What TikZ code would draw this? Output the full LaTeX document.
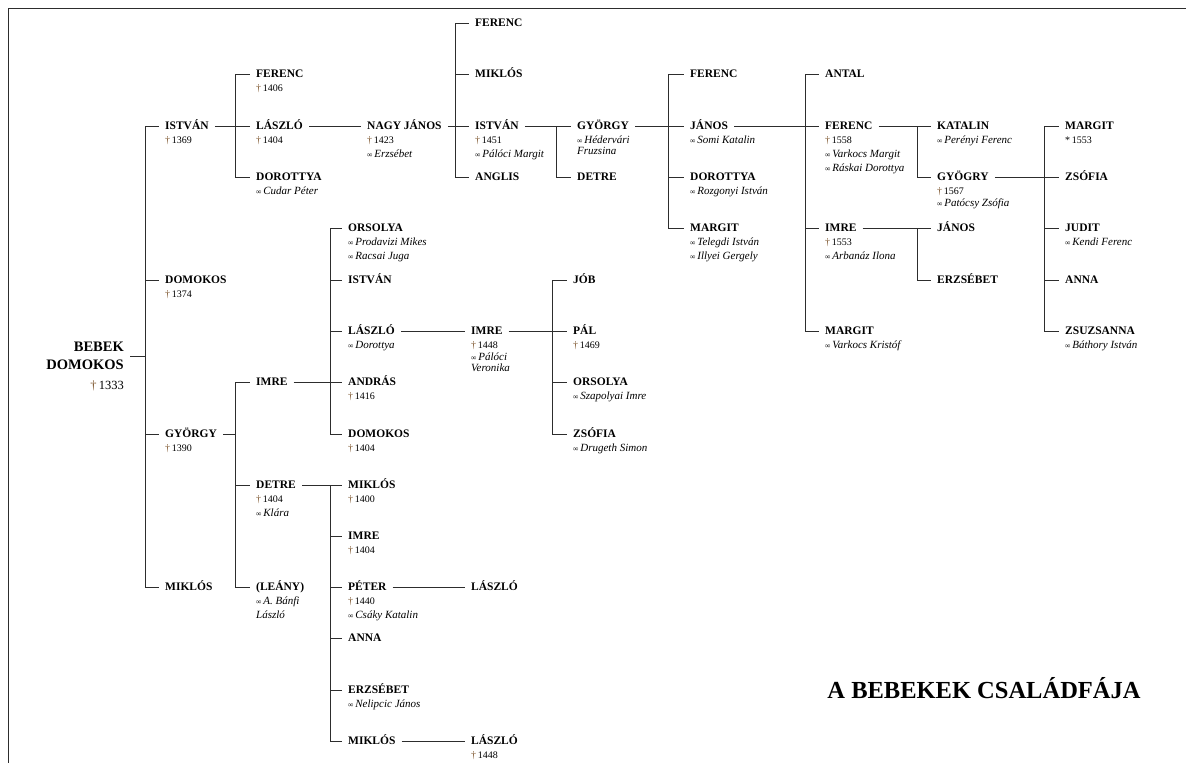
\documentclass[tikz,border=0pt]{standalone}
\usepackage{fontspec}
\setmainfont{Liberation Serif}
\usepackage{tikz}
\usetikzlibrary{positioning}

\definecolor{crosscol}{RGB}{125,85,45}
\definecolor{linecol}{RGB}{45,45,45}

\newcommand{\dets}[1]{\begin{tabular}[t]{@{}l@{}}#1\end{tabular}}
\newcommand{\died}[1]{{\upshape\fontsize{10}{14}\selectfont\textcolor{crosscol}{†}\,#1}}
\newcommand{\born}[1]{{\upshape\fontsize{10}{14}\selectfont *\,#1}}
\newcommand{\wed}{{\upshape\fontsize{7.5}{14}\selectfont ∞}\,}

\begin{document}
\begin{tikzpicture}[x=1pt,y=-1pt,
    person/.style={anchor=west,inner xsep=6pt,inner ysep=0pt,text height=7.6pt,text depth=0pt,
                   font=\fontsize{11.5}{12}\selectfont\bfseries},
    info/.style={anchor=base west,inner xsep=6pt,inner ysep=0pt,
                 font=\fontsize{11}{14}\selectfont\itshape},
    root/.style={anchor=east,align=right,inner xsep=6pt,inner ysep=0pt,
                 font=\fontsize{14.5}{18}\selectfont\bfseries},
    link/.style={draw=linecol,line width=0.95pt},
    fork/.style={link,to path={|- (\tikztotarget.west)}}]

  \useasboundingbox (0,0) rectangle (1186,763);
  \draw[linecol,line width=0.8pt] (8,763) -- (8,8) -- (1186,8);

  % the first Bebek
  \node[root] (bebek) at (130,356) {BEBEK\\DOMOKOS};
  \node[anchor=base east,inner xsep=6pt,font=\fontsize{12.5}{14}\selectfont] (bebek-d)
    at ([yshift=-19pt]bebek.south east) {\textcolor{crosscol}{†}\,1333};

  % sons
  \node[person] (istvan)  at (159,126) {ISTVÁN};
  \node[person] (domokos) at (159,280) {DOMOKOS};
  \node[person] (gyorgy)  at (159,434) {GYÖRGY};
  \node[person] (miklos)  at (159,587) {MIKLÓS};
  \node[info] (istvan-d)  at ([yshift=-14pt]istvan.base west)  {\dets{\died{1369}}};
  \node[info] (domokos-d) at ([yshift=-14pt]domokos.base west) {\dets{\died{1374}}};
  \node[info] (gyorgy-d)  at ([yshift=-14pt]gyorgy.base west)  {\dets{\died{1390}}};

  % István's line
  \node[person] (ferenc2)   at (250,74)  {FERENC};
  \node[person] (laszlo2)   at (250,126) {LÁSZLÓ};
  \node[person] (dorottya2) at (250,177) {DOROTTYA};
  \node[info] (ferenc2-d)   at ([yshift=-14pt]ferenc2.base west)   {\dets{\died{1406}}};
  \node[info] (laszlo2-d)   at ([yshift=-14pt]laszlo2.base west)   {\dets{\died{1404}}};
  \node[info] (dorottya2-d) at ([yshift=-14pt]dorottya2.base west) {\dets{\wed Cudar Péter}};

  \node[person] (nagyjanos) at (361,126) {NAGY JÁNOS};
  \node[info] (nagyjanos-d) at ([yshift=-14pt]nagyjanos.base west) {\dets{\died{1423}\\\wed Erzsébet}};

  \node[person] (ferenc4)  at (469,23)  {FERENC};
  \node[person] (miklos4)  at (469,74)  {MIKLÓS};
  \node[person] (istvan4)  at (469,126) {ISTVÁN};
  \node[person] (anglis4)  at (469,177) {ANGLIS};
  \node[info] (istvan4-d)  at ([yshift=-14pt]istvan4.base west) {\dets{\died{1451}\\\wed Pálóci Margit}};

  \node[person] (gyorgy5) at (571,126) {GYÖRGY};
  \node[person] (detre5)  at (571,177) {DETRE};
  \node[info] (gyorgy5-d) at ([yshift=-14pt]gyorgy5.base west) {\dets{\wed Hédervári\\[-3pt]Fruzsina}};

  \node[person] (ferenc6)   at (684,74)  {FERENC};
  \node[person] (janos6)    at (684,126) {JÁNOS};
  \node[person] (dorottya6) at (684,177) {DOROTTYA};
  \node[person] (margit6)   at (684,228) {MARGIT};
  \node[info] (janos6-d)    at ([yshift=-14pt]janos6.base west)    {\dets{\wed Somi Katalin}};
  \node[info] (dorottya6-d) at ([yshift=-14pt]dorottya6.base west) {\dets{\wed Rozgonyi István}};
  \node[info] (margit6-d)   at ([yshift=-14pt]margit6.base west)   {\dets{\wed Telegdi István\\\wed Illyei Gergely}};

  \node[person] (antal7)  at (819,74)  {ANTAL};
  \node[person] (ferenc7) at (819,126) {FERENC};
  \node[person] (imre7)   at (819,228) {IMRE};
  \node[person] (margit7) at (819,331) {MARGIT};
  \node[info] (ferenc7-d) at ([yshift=-14pt]ferenc7.base west)
    {\dets{\died{1558}\\\wed Varkocs Margit\\\wed Ráskai Dorottya}};
  \node[info] (imre7-d)   at ([yshift=-14pt]imre7.base west)   {\dets{\died{1553}\\\wed Arbanáz Ilona}};
  \node[info] (margit7-d) at ([yshift=-14pt]margit7.base west) {\dets{\wed Varkocs Kristóf}};

  \node[person] (katalin8)  at (931,126) {KATALIN};
  \node[person] (gyogry8)   at (931,177) {GYÖGRY};
  \node[person] (janos8)    at (931,228) {JÁNOS};
  \node[person] (erzsebet8) at (931,280) {ERZSÉBET};
  \node[info] (katalin8-d)  at ([yshift=-14pt]katalin8.base west) {\dets{\wed Perényi Ferenc}};
  \node[info] (gyogry8-d)   at ([yshift=-14pt]gyogry8.base west)  {\dets{\died{1567}\\[-2pt]\wed Patócsy Zsófia}};

  \node[person] (margit9)    at (1059,126) {MARGIT};
  \node[person] (zsofia9)    at (1059,177) {ZSÓFIA};
  \node[person] (judit9)     at (1059,228) {JUDIT};
  \node[person] (anna9)      at (1059,280) {ANNA};
  \node[person] (zsuzsanna9) at (1059,331) {ZSUZSANNA};
  \node[info] (margit9-d)    at ([yshift=-14pt]margit9.base west)    {\dets{\born{1553}}};
  \node[info] (judit9-d)     at ([yshift=-14pt]judit9.base west)     {\dets{\wed Kendi Ferenc}};
  \node[info] (zsuzsanna9-d) at ([yshift=-14pt]zsuzsanna9.base west) {\dets{\wed Báthory István}};

  % György's line
  \node[person] (imre2)  at (250,382) {IMRE};
  \node[person] (detre2) at (250,485) {DETRE};
  \node[person] (leany2) at (250,587) {(LEÁNY)};
  \node[info] (detre2-d) at ([yshift=-14pt]detre2.base west) {\dets{\died{1404}\\\wed Klára}};
  \node[info] (leany2-d) at ([yshift=-14pt]leany2.base west) {\dets{\wed A. Bánfi\\László}};

  \node[person] (orsolya3) at (342,228) {ORSOLYA};
  \node[person] (istvan3)  at (342,280) {ISTVÁN};
  \node[person] (laszlo3)  at (342,331) {LÁSZLÓ};
  \node[person] (andras3)  at (342,382) {ANDRÁS};
  \node[person] (domokos3) at (342,434) {DOMOKOS};
  \node[info] (orsolya3-d) at ([yshift=-14pt]orsolya3.base west) {\dets{\wed Prodavizi Mikes\\\wed Racsai Juga}};
  \node[info] (laszlo3-d)  at ([yshift=-14pt]laszlo3.base west)  {\dets{\wed Dorottya}};
  \node[info] (andras3-d)  at ([yshift=-14pt]andras3.base west)  {\dets{\died{1416}}};
  \node[info] (domokos3-d) at ([yshift=-14pt]domokos3.base west) {\dets{\died{1404}}};

  \node[person] (imre4) at (465,331) {IMRE};
  \node[info] (imre4-d) at ([yshift=-14pt]imre4.base west) {\dets{\died{1448}\\[-2pt]\wed Pálóci\\[-3pt]Veronika}};

  \node[person] (job5)     at (567,280) {JÓB};
  \node[person] (pal5)     at (567,331) {PÁL};
  \node[person] (orsolya5) at (567,382) {ORSOLYA};
  \node[person] (zsofia5)  at (567,434) {ZSÓFIA};
  \node[info] (pal5-d)     at ([yshift=-14pt]pal5.base west)     {\dets{\died{1469}}};
  \node[info] (orsolya5-d) at ([yshift=-14pt]orsolya5.base west) {\dets{\wed Szapolyai Imre}};
  \node[info] (zsofia5-d)  at ([yshift=-14pt]zsofia5.base west)  {\dets{\wed Drugeth Simon}};

  \node[person] (miklos3)   at (342,485) {MIKLÓS};
  \node[person] (imre3)     at (342,536) {IMRE};
  \node[person] (peter3)    at (342,587) {PÉTER};
  \node[person] (anna3)     at (342,638) {ANNA};
  \node[person] (erzsebet3) at (342,690) {ERZSÉBET};
  \node[person] (miklos3b)  at (342,741) {MIKLÓS};
  \node[info] (miklos3-d)   at ([yshift=-14pt]miklos3.base west)   {\dets{\died{1400}}};
  \node[info] (imre3-d)     at ([yshift=-14pt]imre3.base west)     {\dets{\died{1404}}};
  \node[info] (peter3-d)    at ([yshift=-14pt]peter3.base west)    {\dets{\died{1440}\\\wed Csáky Katalin}};
  \node[info] (erzsebet3-d) at ([yshift=-14pt]erzsebet3.base west) {\dets{\wed Nelipcic János}};

  \node[person] (laszlo4a) at (465,587) {LÁSZLÓ};
  \node[person] (laszlo4b) at (465,741) {LÁSZLÓ};
  \node[info] (laszlo4b-d) at ([yshift=-14pt]laszlo4b.base west) {\dets{\died{1448}}};

  % title
  \node[font=\fontsize{24.5}{25}\selectfont\bfseries] (title) at (984,688) {A BEBEKEK CSALÁDFÁJA};

  % branching points
  \coordinate (b-root)      at (145,356);
  \coordinate (b-istvan)    at (235,126);
  \coordinate (b-gyorgy)    at (235,434);
  \coordinate (b-nagyjanos) at (455,126);
  \coordinate (b-istvan4)   at (556,126);
  \coordinate (b-gyorgy5)   at (668,126);
  \coordinate (b-janos6)    at (805,126);
  \coordinate (b-ferenc7)   at (917,126);
  \coordinate (b-imre7)     at (917,228);
  \coordinate (b-gyogry8)   at (1044,177);
  \coordinate (b-imre2)     at (330,382);
  \coordinate (b-imre4)     at (552,331);
  \coordinate (b-detre2)    at (330,485);

  % connectors
  \draw[link] (bebek) -- (b-root);
  \draw[link] (b-root) edge[fork] (istvan) edge[fork] (domokos) edge[fork] (gyorgy) edge[fork] (miklos);

  \draw[link] (istvan) -- (b-istvan);
  \draw[link] (b-istvan) edge[fork] (ferenc2) edge[fork] (laszlo2) edge[fork] (dorottya2);
  \draw[link] (laszlo2) -- (nagyjanos);
  \draw[link] (nagyjanos) -- (b-nagyjanos);
  \draw[link] (b-nagyjanos) edge[fork] (ferenc4) edge[fork] (miklos4) edge[fork] (istvan4) edge[fork] (anglis4);
  \draw[link] (istvan4) -- (b-istvan4);
  \draw[link] (b-istvan4) edge[fork] (gyorgy5) edge[fork] (detre5);
  \draw[link] (gyorgy5) -- (b-gyorgy5);
  \draw[link] (b-gyorgy5) edge[fork] (ferenc6) edge[fork] (janos6) edge[fork] (dorottya6) edge[fork] (margit6);
  \draw[link] (janos6) -- (b-janos6);
  \draw[link] (b-janos6) edge[fork] (antal7) edge[fork] (ferenc7) edge[fork] (imre7) edge[fork] (margit7);
  \draw[link] (ferenc7) -- (b-ferenc7);
  \draw[link] (b-ferenc7) edge[fork] (katalin8) edge[fork] (gyogry8);
  \draw[link] (imre7) -- (b-imre7);
  \draw[link] (b-imre7) edge[fork] (janos8) edge[fork] (erzsebet8);
  \draw[link] (gyogry8) -- (b-gyogry8);
  \draw[link] (b-gyogry8) edge[fork] (margit9) edge[fork] (zsofia9) edge[fork] (judit9)
                          edge[fork] (anna9) edge[fork] (zsuzsanna9);

  \draw[link] (gyorgy) -- (b-gyorgy);
  \draw[link] (b-gyorgy) edge[fork] (imre2) edge[fork] (detre2) edge[fork] (leany2);
  \draw[link] (imre2) -- (b-imre2);
  \draw[link] (b-imre2) edge[fork] (orsolya3) edge[fork] (istvan3) edge[fork] (laszlo3)
                        edge[fork] (andras3) edge[fork] (domokos3);
  \draw[link] (laszlo3) -- (imre4);
  \draw[link] (imre4) -- (b-imre4);
  \draw[link] (b-imre4) edge[fork] (job5) edge[fork] (pal5) edge[fork] (orsolya5) edge[fork] (zsofia5);
  \draw[link] (detre2) -- (b-detre2);
  \draw[link] (b-detre2) edge[fork] (miklos3) edge[fork] (imre3) edge[fork] (peter3)
                         edge[fork] (anna3) edge[fork] (erzsebet3) edge[fork] (miklos3b);
  \draw[link] (peter3) -- (laszlo4a);
  \draw[link] (miklos3b) -- (laszlo4b);

\end{tikzpicture}
\end{document}
